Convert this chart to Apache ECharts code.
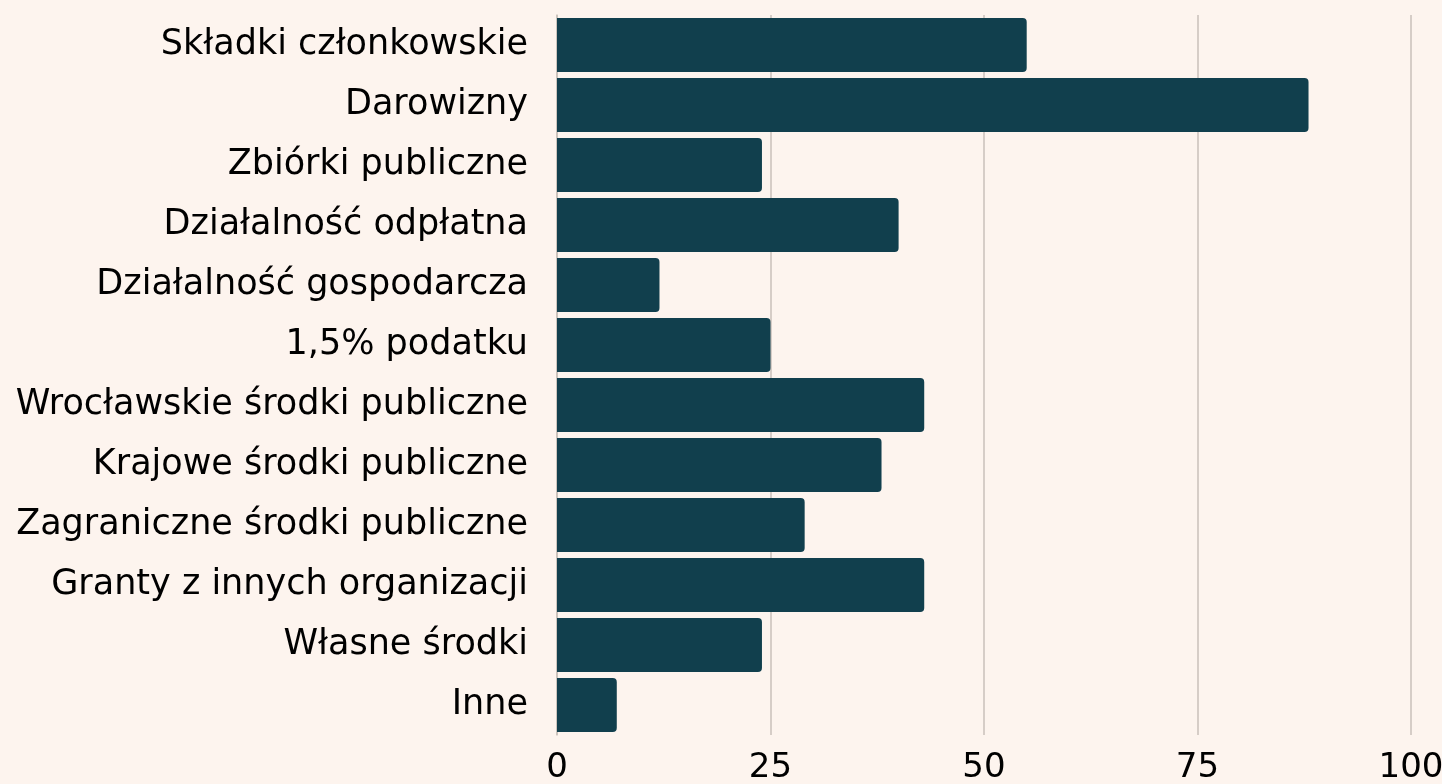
<!DOCTYPE html>
<html>
<head>
<meta charset="utf-8">
<script src="https://cdn.jsdelivr.net/npm/echarts@6/dist/echarts.min.js"></script>
<style>
  html, body { margin: 0; padding: 0; background: #fdf4ee; }
  #chart { width: 1442px; height: 784px; }
</style>
</head>
<body>
<div id="chart"></div>
<script>
// kategorie od góry do dołu
const categories = [
  'Składki członkowskie',
  'Darowizny',
  'Zbiórki publiczne',
  'Działalność odpłatna',
  'Działalność gospodarcza',
  '1,5% podatku',
  'Wrocławskie środki publiczne',
  'Krajowe środki publiczne',
  'Zagraniczne środki publiczne',
  'Granty z innych organizacji',
  'Własne środki',
  'Inne'
];
const values = [55, 88, 24, 40, 12, 25, 43, 38, 29, 43, 24, 7];
const xTicks = [0, 25, 50, 75, 100];

const chart = echarts.init(document.getElementById('chart'));
const font = '"DejaVu Sans", sans-serif';

chart.setOption({
  backgroundColor: '#fdf4ee',
  animation: false,
  grid: { left: 557, right: 31, top: 15, bottom: 49, outerBoundsMode: 'none', containLabel: false },
  xAxis: {
    type: 'value',
    min: xTicks[0],
    max: xTicks[xTicks.length - 1],
    interval: 25,
    axisLine: { show: false },
    axisTick: { show: false },
    splitLine: { lineStyle: { color: '#c9c0ba', width: 1.5 } },
    axisLabel: { color: '#000', fontSize: 34, fontFamily: font, margin: 16 }
  },
  yAxis: {
    type: 'category',
    inverse: true,
    data: categories,
    axisLine: { show: true, lineStyle: { color: '#c9c0ba', width: 1.5 } },
    axisTick: { show: false },
    axisLabel: { color: '#000', fontSize: 35, fontFamily: font, margin: 29 }
  },
  series: [{
    type: 'bar',
    data: values,
    barCategoryGap: '10%',
    itemStyle: { color: '#113f4d', borderRadius: [0, 4, 4, 0] }
  }]
});
</script>
</body>
</html>
